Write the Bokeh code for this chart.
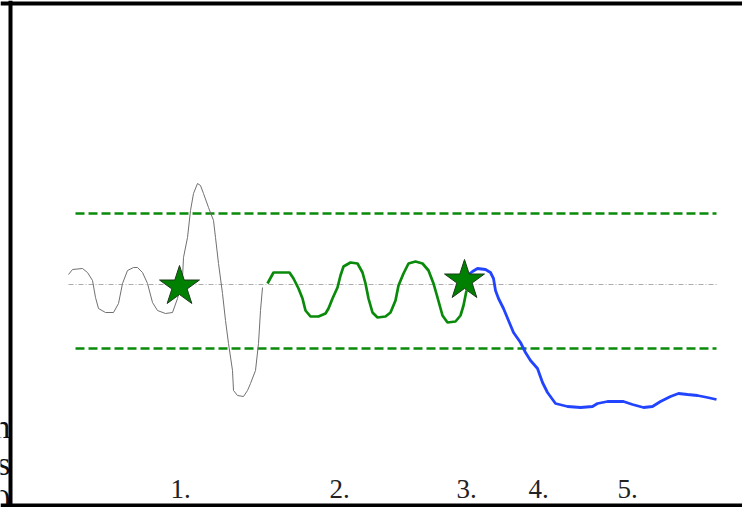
from bokeh.plotting import figure
from bokeh.models import Range1d, Span
from bokeh.core.properties import value
from bokeh.embed import file_html
from bokeh.resources import INLINE

# ---- data (time units on x, amplitude on y; 0 = baseline) ----
gray_x = [0.0, 0.4, 1.4, 1.9, 2.4, 2.7, 3.0, 3.7, 4.5, 5.0, 5.4, 5.9, 6.5, 6.9, 7.4, 7.9, 8.4, 8.9,
          9.7, 10.4, 10.9, 11.4, 11.5, 11.9, 12.2, 12.5, 12.9, 13.2, 13.5, 14.0, 14.5, 14.7, 15.0,
          15.4, 15.7, 16.0, 16.4, 16.5, 16.9, 17.5, 17.9, 18.2, 18.7, 19.0, 19.2, 19.4]
gray_y = [1.0, 1.5, 1.6, 1.2, 0.4, -1.3, -2.4, -2.8, -2.8, -1.9, 0.1, 1.4, 1.7, 1.7, 1.2, 0.1, -1.8,
          -2.6, -2.9, -2.8, -1.4, 0.7, 2.7, 4.7, 7.4, 9.1, 10.1, 9.9, 9.1, 7.7, 6.4, 4.7, 2.1, -0.9,
          -3.6, -5.9, -8.6, -10.6, -11.1, -11.2, -10.6, -9.9, -8.6, -5.9, -2.6, -0.3]

green_x = [19.9, 20.5, 21.2, 22.1, 22.5, 23.0, 23.4, 23.7, 24.2, 25.0, 25.7, 26.0, 26.4, 26.9, 27.2,
           27.5, 28.2, 28.9, 29.4, 29.7, 30.0, 30.4, 30.9, 31.7, 32.2, 32.7, 33.0, 33.5, 34.0, 34.7,
           35.4, 36.0, 36.5, 36.9, 37.4, 37.9, 38.7, 39.2, 39.5, 39.8]
green_y = [0.1, 1.2, 1.2, 1.2, 0.6, -0.4, -1.4, -2.6, -3.2, -3.2, -2.9, -2.4, -1.4, -0.3, 0.9, 1.8,
           2.2, 2.1, 1.2, 0.1, -1.4, -2.8, -3.3, -3.2, -2.8, -1.6, -0.1, 1.1, 2.1, 2.3, 2.1, 1.4, 0.1,
           -1.3, -3.1, -3.8, -3.7, -3.1, -2.1, -0.6]

blue_x = [40.0, 40.4, 40.9, 41.7, 42.2, 42.5, 42.7, 43.0, 43.5, 44.0, 44.5, 45.2, 45.7, 46.2, 46.9,
          47.4, 47.9, 48.7, 49.9, 51.2, 52.4, 52.9, 53.9, 55.5, 56.4, 57.5, 58.4, 59.2, 60.2, 61.0,
          61.9, 62.9, 63.9, 64.8]
blue_y = [1.0, 1.3, 1.6, 1.5, 1.2, 0.6, -0.6, -1.4, -2.4, -3.6, -4.8, -5.8, -6.8, -7.6, -8.4, -9.8,
          -10.8, -11.9, -12.2, -12.3, -12.2, -11.9, -11.7, -11.7, -12.0, -12.3, -12.2, -11.7, -11.2,
          -10.9, -11.0, -11.1, -11.3, -11.5]

star_x = [11.1, 39.6]
star_y = [-0.2, 0.4]

upper_limit = 7.1
lower_limit = -6.4
baseline = 0.0
limit_x = [0.7, 64.8]
base_x = [0.0, 64.8]

event_labels = ["1.", "2.", "3.", "4.", "5."]
event_x = [11.2, 27.1, 39.8, 47.0, 55.9]
event_y = -20.4

side_texts = ["n", "s", "0"]
side_y = [-14.2, -17.9, -21.6]

X0, X1 = -6.8, 67.4
Y0, Y1 = -22.3, 28.4
BORDER_X, BORDER_TOP, BORDER_BOTTOM = -5.8, 28.1, -22.1

p = figure(width=742, height=507, output_backend="svg", toolbar_location=None,
           x_range=Range1d(X0, X1), y_range=Range1d(Y0, Y1),
           x_axis_location=None, y_axis_location=None,
           min_border_left=0, min_border_right=0, min_border_top=0, min_border_bottom=0,
           background_fill_color="white", border_fill_color="white",
           outline_line_color=None, margin=(0, 0, 0, 0))
p.grid.visible = False

# reference lines
p.line(base_x, [baseline, baseline], line_color="#aaaaaa", line_width=1, line_dash="5 2 1 2")
p.line(limit_x, [upper_limit, upper_limit], line_color="#0a8a0a", line_width=2.6, line_dash="9 4")
p.line(limit_x, [lower_limit, lower_limit], line_color="#0a8a0a", line_width=2.6, line_dash="9 4")

# traces
p.line(gray_x, gray_y, line_color="#707070", line_width=1)
p.line(green_x, green_y, line_color="#0a8a0a", line_width=2.7)
p.line(blue_x, blue_y, line_color="#2244ff", line_width=2.8)

# stars
p.scatter(star_x, star_y, marker="star", size=42, fill_color="#008000",
          line_color="#1d3a1d", line_width=1)

# event labels
p.text(event_x, [event_y] * len(event_x), text=event_labels, text_align="center",
       text_baseline="alphabetic", text_font_size=value("27px"), text_color="#222222",
       text_font=value("Liberation Serif"))

# clipped side texts (left of the frame border)
p.text([BORDER_X] * len(side_texts), side_y, text=side_texts, text_align="right",
       text_baseline="alphabetic", text_font_size=value("34px"), text_color="#111111",
       text_font=value("Liberation Serif"))

# frame borders (left, top, bottom)
p.add_layout(Span(location=BORDER_X, dimension="height", line_color="black", line_width=4))
p.add_layout(Span(location=BORDER_TOP, dimension="width", line_color="black", line_width=4))
p.add_layout(Span(location=BORDER_BOTTOM, dimension="width", line_color="black", line_width=4))

open("out.html", "w").write(file_html(p, INLINE))
